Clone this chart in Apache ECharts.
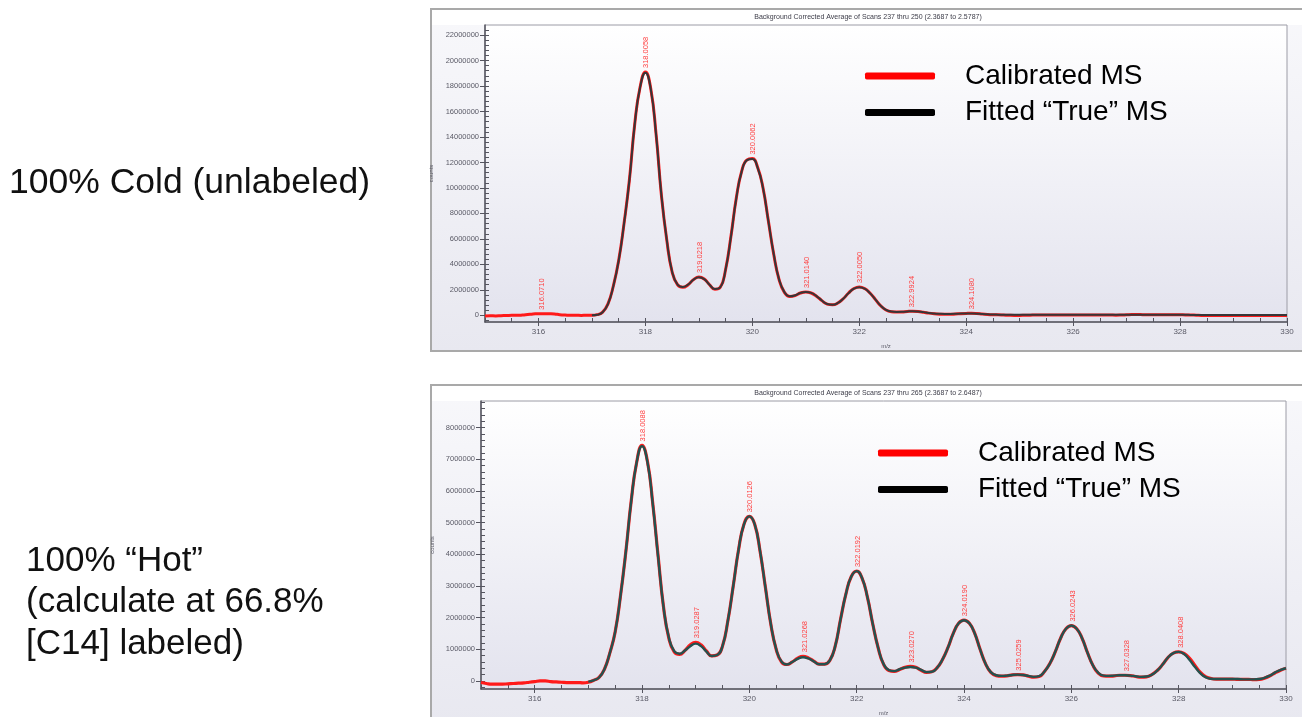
<!DOCTYPE html>
<html><head><meta charset="utf-8">
<script src="https://cdn.jsdelivr.net/npm/echarts@6/dist/echarts.min.js"></script>
<style>html,body{margin:0;padding:0;background:#fff;}#c{width:1302px;height:717px;}</style>
</head><body><div id="c"></div>
<script>
// m/z sampling grid (both spectra)
const mzGrid = [
315.0,315.1,315.2,315.3,315.4,315.5,315.6,315.7,315.8,315.9,
316.0,316.1,316.2,316.3,316.4,316.5,316.6,316.7,316.8,316.9,
317.0,317.1,317.2,317.3,317.4,317.5,317.6,317.7,317.8,317.9,
318.0,318.1,318.2,318.3,318.4,318.5,318.6,318.7,318.8,318.9,
319.0,319.1,319.2,319.3,319.4,319.5,319.6,319.7,319.8,319.9,
320.0,320.1,320.2,320.3,320.4,320.5,320.6,320.7,320.8,320.9,
321.0,321.1,321.2,321.3,321.4,321.5,321.6,321.7,321.8,321.9,
322.0,322.1,322.2,322.3,322.4,322.5,322.6,322.7,322.8,322.9,
323.0,323.1,323.2,323.3,323.4,323.5,323.6,323.7,323.8,323.9,
324.0,324.1,324.2,324.3,324.4,324.5,324.6,324.7,324.8,324.9,
325.0,325.1,325.2,325.3,325.4,325.5,325.6,325.7,325.8,325.9,
326.0,326.1,326.2,326.3,326.4,326.5,326.6,326.7,326.8,326.9,
327.0,327.1,327.2,327.3,327.4,327.5,327.6,327.7,327.8,327.9,
328.0,328.1,328.2,328.3,328.4,328.5,328.6,328.7,328.8,328.9,
329.0,329.1,329.2,329.3,329.4,329.5,329.6,329.7,329.8,329.9,
330.0];

// Top: 100% Cold — counts in millions
const calColdM = [
-0.05,-0.04,-0.05,-0.03,-0.02,0.00,0.00,0.02,0.06,0.10,
0.13,0.13,0.12,0.10,0.05,0.02,0.00,0.00,-0.01,0.00,
0.00,0.05,0.25,0.90,2.30,4.30,7.20,10.60,15.00,17.90,
19.10,17.80,14.20,9.40,5.90,3.40,2.40,2.20,2.40,2.80,
3.00,2.85,2.40,2.05,2.20,3.60,6.20,9.20,11.30,12.20,
12.30,11.60,10.00,7.40,4.80,2.80,1.80,1.48,1.55,1.75,
1.83,1.75,1.50,1.15,0.88,0.82,0.97,1.30,1.75,2.10,
2.22,2.10,1.75,1.25,0.75,0.42,0.28,0.25,0.26,0.30,
0.32,0.30,0.24,0.17,0.12,0.09,0.08,0.08,0.10,0.13,
0.15,0.16,0.14,0.10,0.07,0.05,0.04,0.02,0.00,-0.01,
-0.01,0.00,0.01,0.02,0.02,0.03,0.03,0.02,0.02,0.02,
0.02,0.02,0.02,0.03,0.03,0.03,0.03,0.02,0.01,0.02,
0.04,0.06,0.06,0.05,0.04,0.04,0.04,0.04,0.04,0.04,
0.04,0.03,0.03,0.01,-0.01,-0.01,-0.01,-0.02,-0.02,-0.02,
-0.02,-0.02,-0.02,-0.01,-0.01,-0.01,-0.01,-0.01,-0.01,-0.01,
-0.01];
const fitColdM = [
null,null,null,null,null,null,null,null,null,null,
null,null,null,null,null,null,null,null,null,null,
0.00,0.04,0.24,0.88,2.28,4.28,7.18,10.58,14.98,17.88,
19.05,17.78,14.18,9.40,5.92,3.42,2.42,2.22,2.42,2.80,
2.98,2.84,2.40,2.06,2.20,3.60,6.18,9.18,11.28,12.18,
12.28,11.58,9.98,7.40,4.82,2.82,1.82,1.49,1.57,1.76,
1.83,1.76,1.51,1.16,0.89,0.83,0.97,1.30,1.74,2.09,
2.21,2.09,1.74,1.25,0.76,0.43,0.29,0.26,0.27,0.30,
0.32,0.30,0.25,0.18,0.14,0.12,0.11,0.11,0.12,0.14,
0.15,0.15,0.13,0.10,0.08,0.06,0.05,0.04,0.04,0.04,
0.04,0.04,0.04,0.04,0.04,0.04,0.04,0.04,0.04,0.04,
0.04,0.04,0.04,0.04,0.04,0.04,0.04,0.04,0.04,0.04,
0.04,0.04,0.04,0.04,0.04,0.04,0.04,0.04,0.04,0.04,
0.04,0.04,0.03,0.03,0.03,0.03,0.03,0.03,0.03,0.03,
0.03,0.03,0.03,0.03,0.03,0.03,0.03,0.03,0.03,0.03,
0.03];
const peakMzCold = [316.0710, 318.0058, 319.0218, 320.0062, 321.0140, 322.0050, 322.9924, 324.1080];
const peakCold_M = [0.13, 19.10, 3.00, 12.30, 1.83, 2.22, 0.32, 0.16];
const peakTextCold = ['316.0710','318.0058','319.0218','320.0062','321.0140','322.0050','322.9924','324.1080'];

// Bottom: 100% "Hot" — counts in millions
const calHotM = [
-0.05,-0.08,-0.10,-0.10,-0.10,-0.09,-0.08,-0.07,-0.06,-0.04,
-0.02,0.00,0.00,-0.02,-0.03,-0.04,-0.05,-0.05,-0.05,-0.06,
-0.04,0.02,0.11,0.37,0.88,1.55,2.70,4.10,5.70,6.90,
7.44,6.95,5.62,3.95,2.35,1.35,0.92,0.84,0.96,1.14,
1.22,1.14,0.95,0.79,0.82,1.10,1.90,3.00,4.15,4.95,
5.20,4.95,4.10,2.95,1.80,1.00,0.60,0.52,0.60,0.72,
0.78,0.73,0.63,0.53,0.53,0.65,1.10,1.95,2.75,3.30,
3.47,3.25,2.65,1.80,1.05,0.53,0.33,0.30,0.36,0.43,
0.46,0.43,0.34,0.27,0.29,0.42,0.68,1.05,1.50,1.82,
1.92,1.82,1.50,1.00,0.55,0.27,0.17,0.15,0.16,0.19,
0.20,0.19,0.15,0.12,0.14,0.30,0.55,0.92,1.35,1.65,
1.75,1.65,1.35,0.90,0.50,0.25,0.16,0.15,0.16,0.18,
0.18,0.17,0.14,0.12,0.13,0.20,0.33,0.52,0.74,0.88,
0.92,0.87,0.72,0.50,0.28,0.14,0.08,0.06,0.06,0.06,
0.06,0.05,0.05,0.05,0.04,0.05,0.09,0.16,0.26,0.34,
0.40];
const fitHotM = [
null,null,null,null,null,null,null,null,null,null,
null,null,null,null,null,null,null,null,null,null,
-0.02,0.02,0.11,0.37,0.88,1.55,2.70,4.10,5.70,6.90,
7.42,6.93,5.60,3.93,2.35,1.37,0.94,0.86,0.96,1.10,
1.18,1.10,0.93,0.79,0.82,1.10,1.90,3.00,4.15,4.95,
5.20,4.95,4.10,2.95,1.80,1.01,0.61,0.52,0.60,0.70,
0.75,0.71,0.62,0.53,0.53,0.65,1.10,1.95,2.75,3.30,
3.47,3.25,2.65,1.80,1.05,0.54,0.34,0.31,0.37,0.42,
0.44,0.42,0.35,0.28,0.29,0.42,0.68,1.05,1.50,1.82,
1.92,1.82,1.50,1.00,0.55,0.28,0.18,0.16,0.17,0.19,
0.20,0.19,0.16,0.13,0.15,0.30,0.55,0.92,1.35,1.65,
1.75,1.65,1.35,0.90,0.50,0.26,0.17,0.16,0.17,0.18,
0.18,0.17,0.15,0.13,0.14,0.20,0.33,0.52,0.74,0.88,
0.92,0.85,0.67,0.45,0.25,0.12,0.07,0.06,0.06,0.06,
0.06,0.06,0.05,0.05,0.05,0.06,0.10,0.17,0.27,0.35,
0.40];
const peakMzHot = [318.0088, 319.0287, 320.0126, 321.0268, 322.0192, 323.0270, 324.0190, 325.0259, 326.0243, 327.0328, 328.0408];
const peakHot_M = [7.44, 1.22, 5.20, 0.78, 3.47, 0.46, 1.92, 0.20, 1.75, 0.18, 0.92];
const peakTextHot = ['318.0088','319.0287','320.0126','321.0268','322.0192','323.0270','324.0190','325.0259','326.0243','327.0328','328.0408'];

// axis ticks / labels
const xTickLabels = [316, 318, 320, 322, 324, 326, 328, 330];
const xMinorTicks = [315,315.5,316,316.5,317,317.5,318,318.5,319,319.5,320,320.5,321,321.5,322,322.5,323,323.5,324,324.5,325,325.5,326,326.5,327,327.5,328,328.5,329,329.5,330];
const yTicksCold = [0,2000000,4000000,6000000,8000000,10000000,12000000,14000000,16000000,18000000,20000000,22000000];
const yTicksHot = [0,1000000,2000000,3000000,4000000,5000000,6000000,7000000,8000000];
const titleCold = 'Background Corrected Average of Scans 237 thru 250 (2.3687 to 2.5787)';
const titleHot = 'Background Corrected Average of Scans 237 thru 265 (2.3687 to 2.6487)';
const CAL = 'Calibrated MS', FIT = 'Fitted \u201cTrue\u201d MS';

function minorList(lo, hi, step){ const a=[]; for(let v=Math.ceil(lo/step)*step; v<=hi; v+=step) a.push(v); return a; }
function toData(xs, ysM){ const out=[]; xs.forEach((x,i)=>{ if(ysM[i]!==null) out.push([x, Math.round(ysM[i]*1e6)]); }); return out; }
function peakData(xs, ysM, txt){ return xs.map((x,i)=>({value:[x, ysM[i]*1e6], name: txt[i]})); }

const FF = '"Liberation Sans", Arial, sans-serif';
const axisGray = '#5a5a66';
const Y0 = {min:-526000, max:22790000}, Y1 = {min:-254000, max:8844000};

function plotBg(){ return new echarts.graphic.LinearGradient(0,0,0,1,[{offset:0,color:'#ffffff'},{offset:1,color:'#e3e3ee'}]); }
function panelBg(){ return new echarts.graphic.LinearGradient(0,0,0,1,[{offset:0,color:'#f8f8fb'},{offset:1,color:'#e8e8f0'}]); }

function mainX(gi){ return {type:'value', gridIndex:gi, min:315, max:330, position:'bottom',
  name:'m/z', nameLocation:'middle', nameGap:21, nameTextStyle:{fontSize:6, color:axisGray, fontFamily:FF},
  axisLine:{show:true, onZero:false, lineStyle:{color:'#55555f', width:1.5}},
  axisTick:{show:true, inside:false, length:4, customValues:xTickLabels, lineStyle:{color:'#55555f'}},
  axisLabel:{show:true, customValues:xTickLabels, margin:6, fontSize:8, color:axisGray, fontFamily:FF},
  splitLine:{show:false}}; }
function minorX(gi){ return {type:'value', gridIndex:gi, min:315, max:330, position:'bottom',
  axisLine:{show:false, onZero:false}, axisLabel:{show:false},
  axisTick:{show:true, inside:true, length:4, customValues:xMinorTicks, lineStyle:{color:'#55555f'}},
  splitLine:{show:false}}; }
function mainY(gi, r, ticks, gap){ return {type:'value', gridIndex:gi, min:r.min, max:r.max, position:'left',
  name:'counts', nameLocation:'middle', nameRotate:90, nameGap:gap, nameTextStyle:{fontSize:6, color:axisGray, fontFamily:FF},
  axisLine:{show:true, onZero:false, lineStyle:{color:'#55555f', width:1.5}},
  axisTick:{show:true, inside:false, length:5, customValues:ticks, lineStyle:{color:'#55555f'}},
  axisLabel:{show:true, customValues:ticks, margin:6, fontSize:7.5, color:axisGray, fontFamily:FF, formatter:v=>String(Math.round(v))},
  splitLine:{show:false}}; }
function minorY(gi, r, step){ return {type:'value', gridIndex:gi, min:r.min, max:r.max, position:'left',
  axisLine:{show:false, onZero:false}, axisLabel:{show:false},
  axisTick:{show:true, inside:true, length:4, customValues:minorList(r.min, r.max, step), lineStyle:{color:'#55555f'}},
  splitLine:{show:false}}; }

function lineSeries(name, xi, yi, data, color, width, z){ return {type:'line', name, xAxisIndex:xi, yAxisIndex:yi, data,
  symbol:'none', showSymbol:false, smooth:0.5, silent:true, z, lineStyle:{color, width}, itemStyle:{color}}; }
function peakSeries(xi, yi, data){ return {type:'scatter', name:'peaks'+xi, xAxisIndex:xi, yAxisIndex:yi, data,
  symbol:'circle', symbolSize:2, itemStyle:{color:'rgba(255,255,255,0)'}, silent:true, z:6,
  label:{show:true, opacity:1, formatter:'{b}', position:'top', distance:3, rotate:90, align:'left', verticalAlign:'middle',
    fontSize:7.5, color:'#ff4040', fontFamily:FF}}; }

function legendAt(left, top){ return {left, top, padding:0, orient:'vertical', itemWidth:70, itemHeight:7, itemGap:4.5, selectedMode:false,
  data:[{name:CAL, icon:'roundRect', itemStyle:{color:'#ff0000'}}, {name:FIT, icon:'roundRect', itemStyle:{color:'#000000'}}],
  textStyle:{fontSize:28, color:'#000', fontFamily:FF, lineHeight:32, padding:[0,0,0,25]}}; }

const chart = echarts.init(document.getElementById('c'), null, {renderer:'canvas'});
chart.setOption({
  animation:false,
  backgroundColor:'#ffffff',
  graphic:[
    {type:'rect', z:-10, shape:{x:431, y:9, width:880, height:342}, style:{fill:panelBg(), stroke:'#a9a9a9', lineWidth:2}},
    {type:'rect', z:-9, shape:{x:432, y:10, width:870, height:15}, style:{fill:'#ffffff'}},
    {type:'text', z:5, style:{text:titleCold, x:868, y:17, align:'center', verticalAlign:'middle', font:'7px '+FF, fill:'#3c3c48'}},
    {type:'rect', z:-10, shape:{x:431, y:385, width:880, height:340}, style:{fill:panelBg(), stroke:'#a9a9a9', lineWidth:2}},
    {type:'rect', z:-9, shape:{x:432, y:386, width:870, height:15}, style:{fill:'#ffffff'}},
    {type:'text', z:5, style:{text:titleHot, x:868, y:393, align:'center', verticalAlign:'middle', font:'7px '+FF, fill:'#3c3c48'}},
    {type:'text', z:5, style:{text:'100% Cold (unlabeled)', x:9, y:183, verticalAlign:'middle', font:'35.5px '+FF, fill:'#111'}},
    {type:'text', z:5, style:{text:'100% \u201cHot\u201d', x:26, y:561, verticalAlign:'middle', font:'35px '+FF, fill:'#111'}},
    {type:'text', z:5, style:{text:'(calculate at 66.8%', x:26, y:602, verticalAlign:'middle', font:'35px '+FF, fill:'#111'}},
    {type:'text', z:5, style:{text:'[C14] labeled)', x:26, y:644, verticalAlign:'middle', font:'35px '+FF, fill:'#111'}}
  ],
  legend:[legendAt(865, 60), legendAt(878, 437)],
  grid:[
    {left:485, right:15, top:25, height:297, show:true, backgroundColor:plotBg(), borderColor:'#9c9ca6', borderWidth:1},
    {left:481, right:16, top:401, height:297, show:true, backgroundColor:plotBg(), borderColor:'#9c9ca6', borderWidth:1}
  ],
  xAxis:[mainX(0), minorX(0), mainX(1), minorX(1)],
  yAxis:[mainY(0, Y0, yTicksCold, 48), minorY(0, Y0, 400000), mainY(1, Y1, yTicksHot, 44), minorY(1, Y1, 200000)],
  series:[
    lineSeries(CAL, 0, 0, toData(mzGrid, calColdM), '#ff1a1a', 3, 2),
    lineSeries(FIT, 0, 0, toData(mzGrid, fitColdM), '#363638', 2, 3),
    peakSeries(0, 0, peakData(peakMzCold, peakCold_M, peakTextCold)),
    lineSeries(CAL, 2, 2, toData(mzGrid, calHotM), '#ff1a1a', 3.2, 2),
    lineSeries(FIT, 2, 2, toData(mzGrid, fitHotM), '#24524f', 2.4, 3),
    peakSeries(2, 2, peakData(peakMzHot, peakHot_M, peakTextHot))
  ]
});
</script></body></html>
